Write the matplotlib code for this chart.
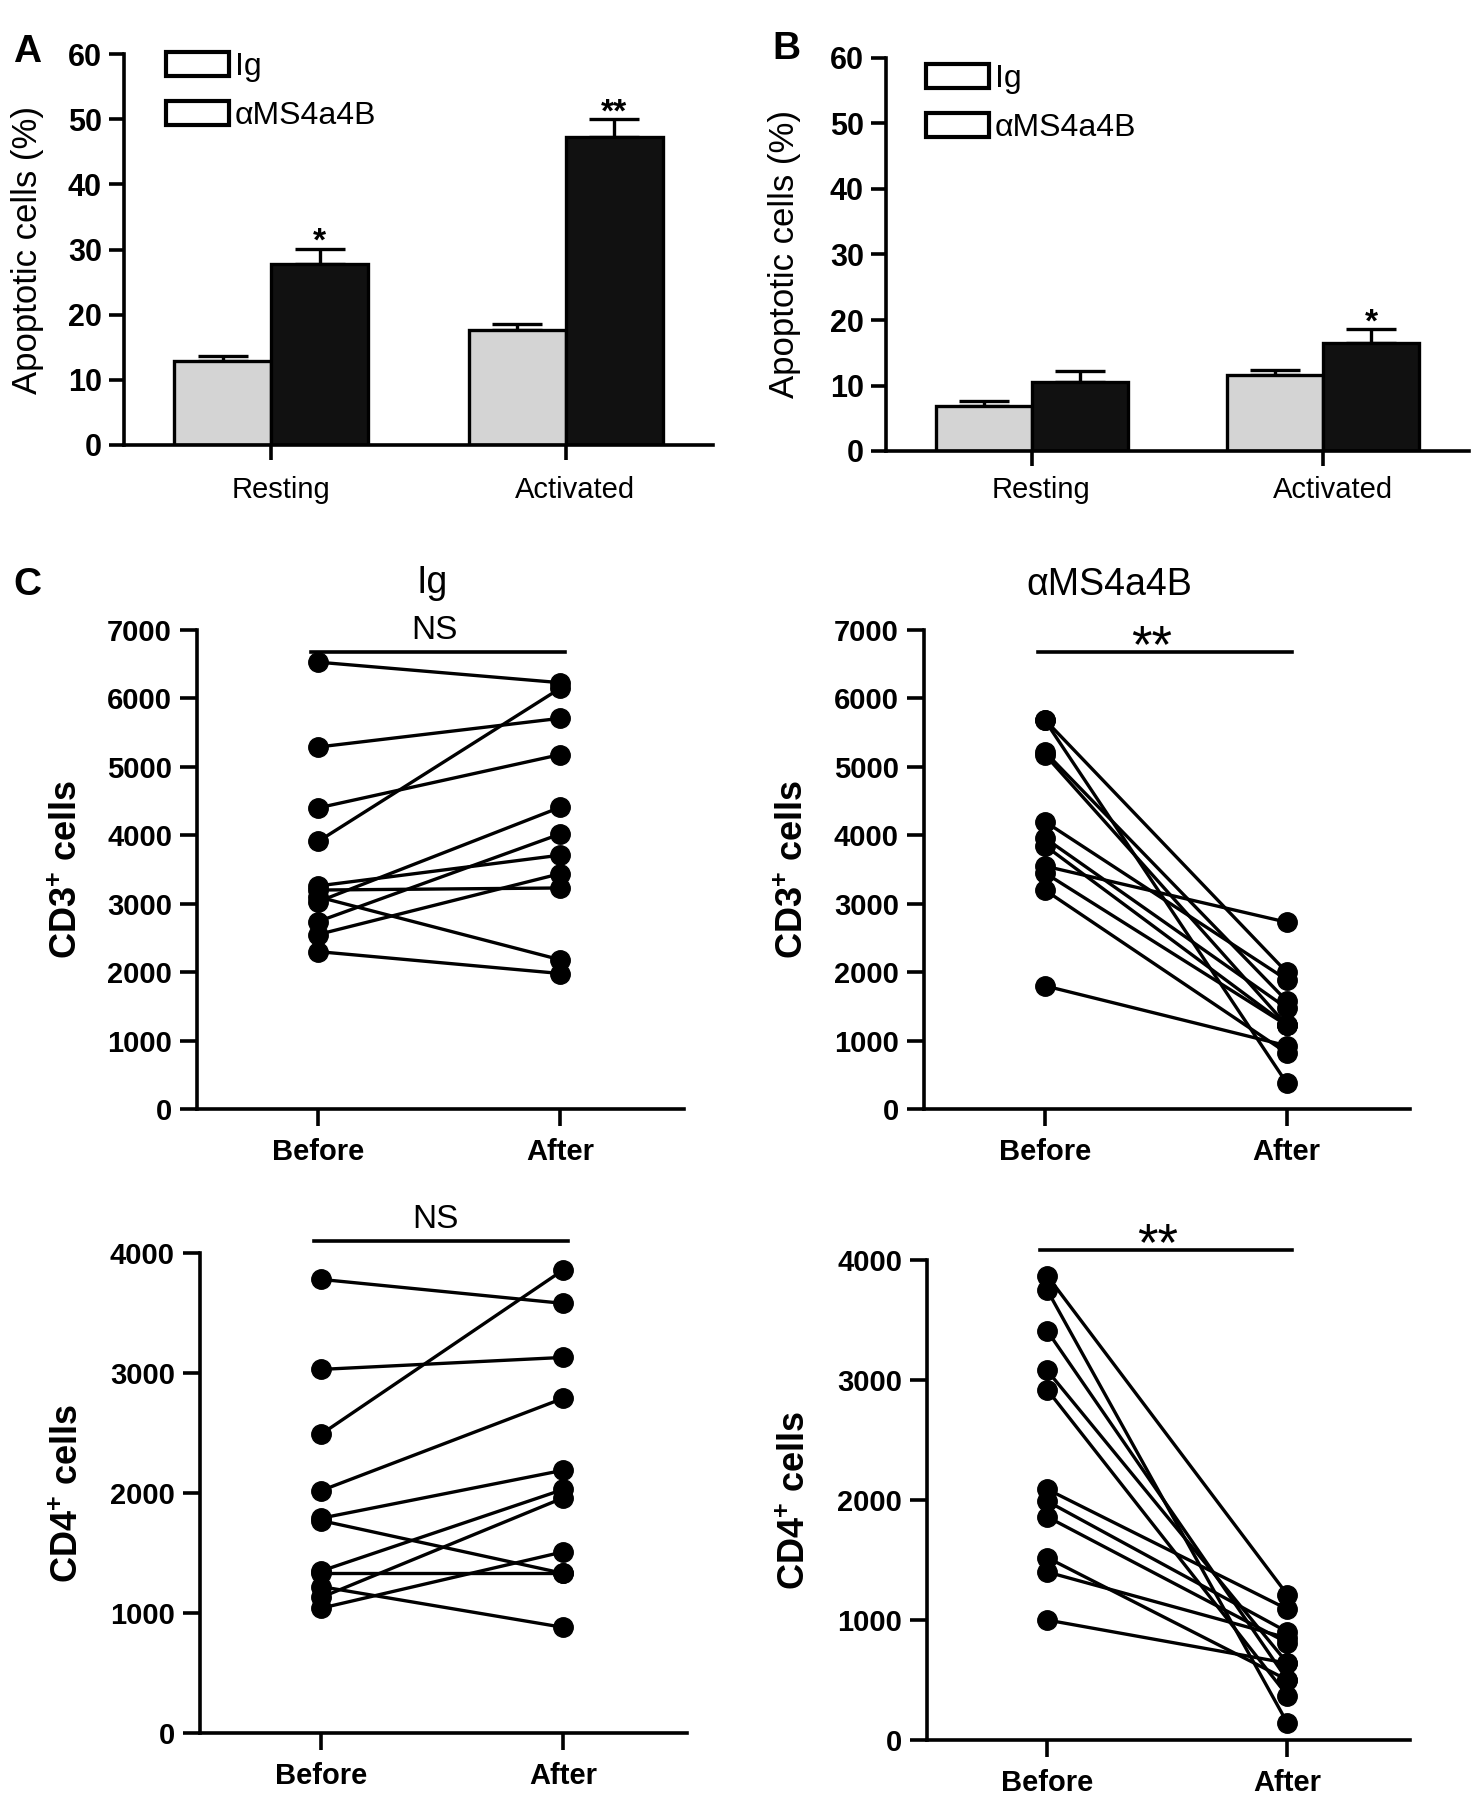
import numpy as np
import matplotlib
matplotlib.use("Agg")
import matplotlib.pyplot as plt
import matplotlib.transforms as mtransforms
from matplotlib.patches import Patch

plt.rcParams['font.family'] = ['Liberation Sans', 'DejaVu Sans']
plt.rcParams['mathtext.fontset'] = 'custom'
plt.rcParams['mathtext.rm'] = 'Liberation Sans'
plt.rcParams['mathtext.bf'] = 'Liberation Sans:bold'

W, H = 1484, 1800

# ---- data ----
groups = ["Resting", "Activated"]
legend_names = ["Ig", "αMS4a4B"]

a_ig = [12.9, 17.7]
a_ig_err = [0.8, 0.9]
a_ab = [27.7, 47.3]
a_ab_err = [2.4, 2.7]
a_stars = ["*", "**"]

b_ig = [6.9, 11.6]
b_ig_err = [0.8, 0.8]
b_ab = [10.6, 16.5]
b_ab_err = [1.6, 2.1]
b_stars = ["", "*"]

pair_labels = ["Before", "After"]

cd3_ig_before = [6530, 5290, 4400, 3910, 3260, 3200, 3030, 3100, 2740, 2550, 2300]
cd3_ig_after = [6230, 5710, 5180, 6150, 3710, 3230, 4410, 2180, 4020, 3440, 1980]

cd3_ab_before = [5690, 5680, 5220, 5180, 4200, 3960, 3850, 3550, 3450, 3200, 1800]
cd3_ab_after = [2000, 380, 1580, 1225, 1890, 1475, 1225, 2730, 1225, 820, 925]

cd4_ig_before = [3780, 3030, 2490, 2020, 1790, 1770, 1350, 1330, 1130, 1040, 1220]
cd4_ig_after = [3580, 3130, 3860, 2790, 2190, 1330, 2030, 1330, 1960, 1510, 880]

cd4_ab_before = [3870, 3750, 3410, 3080, 2920, 2090, 1990, 1860, 1520, 1400, 1000]
cd4_ab_after = [1210, 140, 500, 640, 370, 1090, 900, 810, 500, 850, 640]

IG_COLOR = "#d4d4d4"
AB_COLOR = "#111111"

fig = plt.figure(figsize=(W / 100, H / 100), dpi=100)


def add_ax(left, right, y0, ytop):
    # pixel box -> figure fraction
    return fig.add_axes([left / W, 1 - y0 / H, (right - left) / W, (y0 - ytop) / H])


def style_axes(ax, lw=2.6, length=11):
    ax.spines['top'].set_visible(False)
    ax.spines['right'].set_visible(False)
    for s in ['left', 'bottom']:
        ax.spines[s].set_linewidth(lw)
    ax.tick_params(width=lw, length=length, direction='out')


def bar_panel(ax, ig, ig_err, ab, ab_err, stars, leg_xy, xpad):
    w = 0.33
    x = np.arange(len(groups))
    for xs, vals, errs, col in [(x - w / 2, ig, ig_err, IG_COLOR), (x + w / 2, ab, ab_err, AB_COLOR)]:
        ax.errorbar(xs, vals, yerr=[np.zeros(len(vals)), errs], fmt='none', ecolor='black',
                    elinewidth=2.4, capsize=18, capthick=2.4, zorder=1)
        ax.bar(xs, vals, width=w, color=col, edgecolor='black', linewidth=2.4, zorder=2)
    for xi, v, e, s in zip(x + w / 2, ab, ab_err, stars):
        if s:
            ax.text(xi, v + e - 1.4, s, ha='center', va='bottom', fontsize=24, fontweight='bold')
    ax.set_xlim(-0.5, 1.5)
    ax.set_ylim(0, 60)
    ax.set_yticks(range(0, 61, 10))
    ax.set_xticks(x)
    ax.set_xticklabels(groups, fontsize=21)
    for t in ax.get_yticklabels():
        t.set_fontsize(22)
        t.set_fontweight('bold')
    style_axes(ax)
    ax.tick_params(axis='x', pad=xpad)
    ax.tick_params(axis='y', pad=5)
    # category names sit a little right of the tick marks
    shift = mtransforms.ScaledTranslation(7 / 72, 0, fig.dpi_scale_trans)
    for t in ax.get_xticklabels():
        t.set_transform(t.get_transform() + shift)
    ax.set_ylabel("Apoptotic cells (%)", fontsize=25)
    handles = [Patch(facecolor='white', edgecolor='black', linewidth=3) for _ in legend_names]
    ax.legend(handles, legend_names, loc='upper left', bbox_to_anchor=leg_xy, frameon=False,
              borderpad=0, borderaxespad=0, handlelength=1.95, handleheight=0.8,
              handletextpad=0.2, labelspacing=0.58, prop={'size': 23})


axA = add_ax(124, 713, 445, 54)
bar_panel(axA, a_ig, a_ig_err, a_ab, a_ab_err, a_stars, (0.072, 1.005), 11)
axA.yaxis.set_label_coords(-80 / 589, 0.5)

axB = add_ax(886, 1469, 451, 58)
bar_panel(axB, b_ig, b_ig_err, b_ab, b_ab_err, b_stars, (0.069, 0.985), 7)
axB.yaxis.set_label_coords(-85 / 583, 0.5)


def pair_panel(ax, before, after, ymax, step, sig, sig_x, sig_y, text_y, sig_size):
    for b, a in zip(before, after):
        ax.plot([0, 1], [b, a], color='black', lw=2.4, marker='o', markersize=14,
                markerfacecolor='black', markeredgecolor='black', clip_on=False, zorder=3)
    ax.set_xlim(-0.5, 1.51)
    ax.set_ylim(0, ymax)
    ax.set_yticks(range(0, ymax + 1, step))
    ax.set_xticks([0, 1])
    ax.set_xticklabels(pair_labels, fontsize=21, fontweight='bold')
    for t in ax.get_yticklabels():
        t.set_fontsize(21)
        t.set_fontweight('bold')
    style_axes(ax, length=12)
    ax.tick_params(axis='x', pad=9)
    ax.tick_params(axis='y', pad=6)
    ax.plot([-0.03, 1.02], [sig_y, sig_y], color='black', lw=2.6, clip_on=False)
    ax.text(sig_x, text_y, sig, ha='center', va='center', fontsize=sig_size, clip_on=False)


cd_ylabel = dict(fontsize=26, fontweight='bold')

axC1 = add_ax(197, 684, 1109, 630)
pair_panel(axC1, cd3_ig_before, cd3_ig_after, 7000, 1000, "NS", 0.48, 6680, 7000, 24)
axC1.set_ylabel(r"CD3$^{\mathbf{+}}$ cells", **cd_ylabel)
axC1.yaxis.set_label_coords(-112 / 487, 0.5)

axC2 = add_ax(924, 1410, 1109, 630)
pair_panel(axC2, cd3_ab_before, cd3_ab_after, 7000, 1000, "**", 0.44, 6680, 6740, 38)
axC2.set_ylabel(r"CD3$^{\mathbf{+}}$ cells", **cd_ylabel)
axC2.yaxis.set_label_coords(-113 / 486, 0.5)

axC3 = add_ax(200, 687, 1733, 1253)
pair_panel(axC3, cd4_ig_before, cd4_ig_after, 4000, 1000, "NS", 0.47, 4096, 4275, 24)
axC3.set_ylabel(r"CD4$^{\mathbf{+}}$ cells", **cd_ylabel)
axC3.yaxis.set_label_coords(-114 / 487, 0.5)

axC4 = add_ax(927, 1410, 1740, 1260)
pair_panel(axC4, cd4_ab_before, cd4_ab_after, 4000, 1000, "**", 0.46, 4086, 4115, 38)
axC4.set_ylabel(r"CD4$^{\mathbf{+}}$ cells", **cd_ylabel)
axC4.yaxis.set_label_coords(-114 / 483, 0.5)

# column titles and panel letters
fig.text(432 / W, 1 - 583 / H, "Ig", ha='center', va='center', fontsize=27)
fig.text(1109 / W, 1 - 585 / H, "αMS4a4B", ha='center', va='center', fontsize=27)
fig.text(27 / W, 1 - 52 / H, "A", ha='center', va='center', fontsize=28, fontweight='bold')
fig.text(786 / W, 1 - 49 / H, "B", ha='center', va='center', fontsize=28, fontweight='bold')
fig.text(27 / W, 1 - 585 / H, "C", ha='center', va='center', fontsize=28, fontweight='bold')

fig.savefig("out.png", dpi=100)
